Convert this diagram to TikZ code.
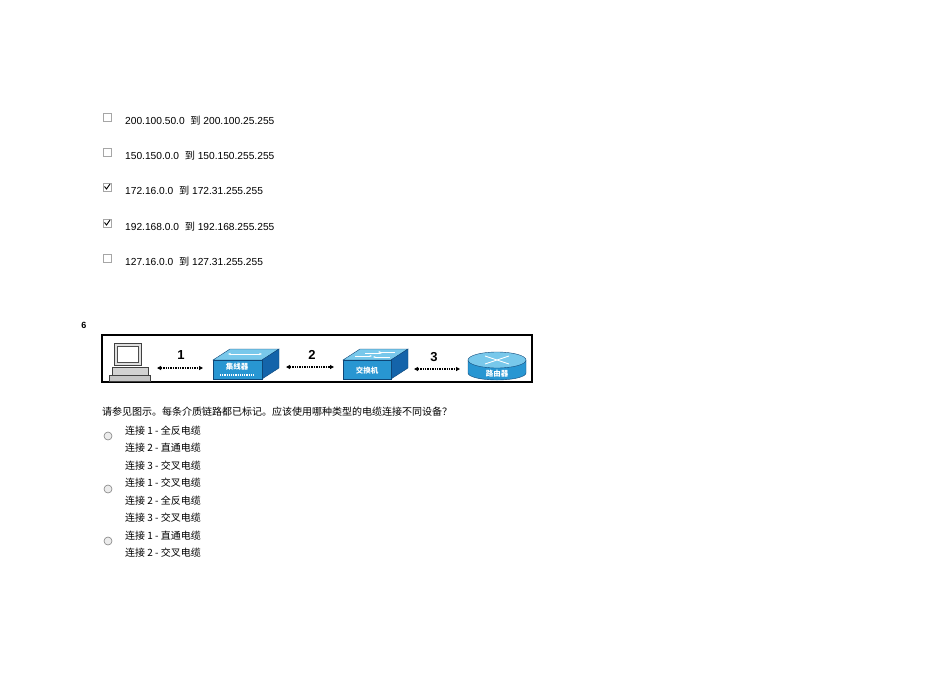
\documentclass[tikz,border=0pt]{standalone}
\usepackage{fontspec}
\setmainfont{Liberation Sans}
\newfontfamily\cjk{Noto Sans CJK SC}
\usetikzlibrary{arrows.meta}
\definecolor{devtop}{RGB}{120,200,235}
\definecolor{devfront}{RGB}{40,150,210}
\definecolor{devside}{RGB}{20,100,170}
\begin{document}
\begin{tikzpicture}[x=1pt,y=-1pt,
  opt/.style={anchor=west,font=\fontsize{10.2}{12}\selectfont,inner sep=0pt},
  copt/.style={anchor=west,font=\cjk\fontsize{10}{12}\selectfont,inner sep=0pt},
  cbox/.style={draw=gray!70,fill=white,minimum size=8pt,inner sep=0pt,line width=0.5pt},
  radio/.style={circle,draw=gray,fill=gray!15,minimum size=8pt,inner sep=0pt,line width=0.6pt},
  link/.style={densely dotted,line width=1.4pt,{Triangle[length=4pt,width=4pt]}-{Triangle[length=4pt,width=4pt]}},
  num/.style={font=\bfseries\fontsize{13}{13}\selectfont,inner sep=0pt},
  dev/.style={fill=devfront,draw=devside!70!black,line width=0.4pt},
  devtxt/.style={text=white,font=\cjk\bfseries\fontsize{7.5}{7.5}\selectfont,inner sep=0pt}]
\useasboundingbox (0,0) rectangle (950,672);
% checkbox list
\foreach \y/\t/\c in {117/{200.100.50.0 \ {\cjk 到}\  200.100.25.255}/0,
                        152/{150.150.0.0 \ {\cjk 到}\  150.150.255.255}/0,
                        187/{172.16.0.0 \ {\cjk 到}\  172.31.255.255}/1,
                        223/{192.168.0.0 \ {\cjk 到}\  192.168.255.255}/1,
                        258/{127.16.0.0 \ {\cjk 到}\  127.31.255.255}/0}{
  \node[cbox] (cb\y) at (107,\y) {};
  \ifnum\c=1 \draw[line width=0.9pt] ([shift={(-2.5pt,0.5pt)}]cb\y.center) -- ([shift={(-0.5pt,-2pt)}]cb\y.center) -- ([shift={(3pt,3pt)}]cb\y.center);\fi
  \node[opt] (t\y) at (125,\y+4) {\t};
}
\node[font=\bfseries\fontsize{9}{10}\selectfont] (q) at (84,325) {6};
% diagram frame
\draw[line width=1.5pt] (102,335) rectangle (532,382);
% computer
\node[inner sep=0pt,minimum size=1pt] (pc) at (129,362) {};
\draw[fill=gray!25,draw=gray!50!black] (114,343) rectangle (141,365);
\draw[fill=white,draw=gray!60!black] (117,346) rectangle (138,362);
\draw[fill=gray!35,draw=gray!50!black] (112,367) rectangle (148,375);
\draw[fill=gray!45,draw=gray!50!black] (109,375) rectangle (150,381);
% hub
\node[inner sep=0pt] (hub) at (246,365) {};
\draw[dev,fill=devtop] (213,360) -- (230,349) -- (279,349) -- (262,360) -- cycle;
\draw[dev,fill=devside] (262,360) -- (279,349) -- (279,368) -- (262,379) -- cycle;
\draw[dev] (213,360) rectangle (262,379);
\draw[white,line width=1pt,{Stealth[length=3pt]}-{Stealth[length=3pt]}] (228,354) -- (262,354);
\node[devtxt] at (237,367) {集线器};
\draw[white,densely dotted,line width=1.2pt] (220,375) -- (255,375);
% switch
\node[inner sep=0pt] (sw) at (376,365) {};
\draw[dev,fill=devtop] (343,360) -- (360,349) -- (408,349) -- (391,360) -- cycle;
\draw[dev,fill=devside] (391,360) -- (408,349) -- (408,368) -- (391,379) -- cycle;
\draw[dev] (343,360) rectangle (391,379);
\draw[white,line width=0.8pt,-{Stealth[length=2.5pt]}] (355,356) -- (372,356);
\draw[white,line width=0.8pt,-{Stealth[length=2.5pt]}] (395,352) -- (378,352);
\draw[white,line width=0.8pt,-{Stealth[length=2.5pt]}] (365,353) -- (382,353);
\draw[white,line width=0.8pt,-{Stealth[length=2.5pt]}] (390,357) -- (373,357);
\node[devtxt] at (367,371) {交换机};
% router
\node[inner sep=0pt] (rt) at (497,365) {};
\draw[dev] (468,360) -- (468,373) arc[start angle=180,end angle=0,x radius=29,y radius=7] -- (526,360) -- cycle;
\draw[dev,fill=devtop] (497,360) ellipse[x radius=29,y radius=8];
\draw[white,line width=0.9pt] (485,356) -- (509,364) (485,364) -- (509,356);
\node[devtxt] at (497,374) {路由器};
% links
\draw[link] (157,368) -- (203,368);
\node[num] (n1) at (181,355) {1};
\draw[link] (286,367) -- (334,367);
\node[num] (n2) at (312,355) {2};
\draw[link] (414,369) -- (460,369);
\node[num] (n3) at (434,357) {3};
% question
\node[copt] (qt) at (102,412) {请参见图示。每条介质链路都已标记。应该使用哪种类型的电缆连接不同设备？};
\foreach \y in {436,489,541}{\node[radio] (r\y) at (108,\y) {};}
\foreach \y/\t in {431/{1 - 全反电缆},448/{2 - 直通电缆},466/{3 - 交叉电缆},
                   483/{1 - 交叉电缆},501/{2 - 全反电缆},518/{3 - 交叉电缆},
                   536/{1 - 直通电缆},553/{2 - 交叉电缆}}{
  \node[copt] (a\y) at (125,\y) {连接 \t};
}
\end{tikzpicture}
\end{document}
